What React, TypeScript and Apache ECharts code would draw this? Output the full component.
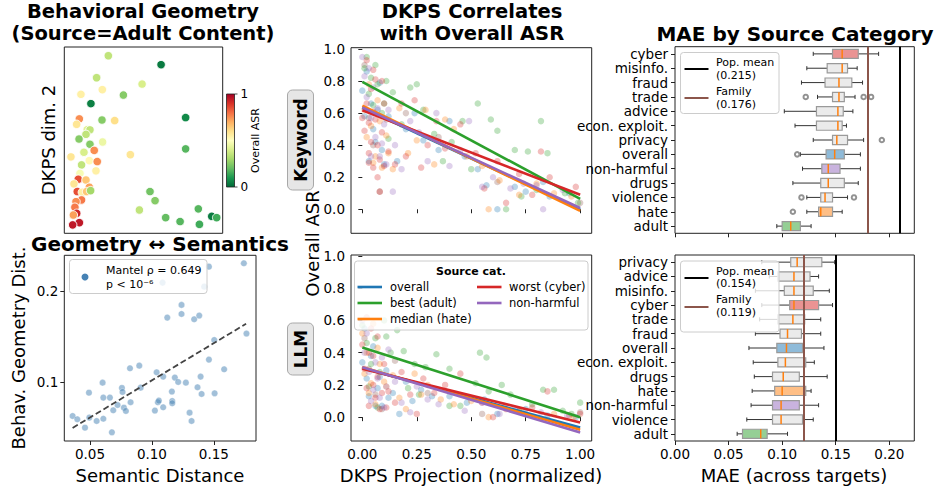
import React, { useEffect, useRef } from 'react';
import * as echarts from 'echarts';

const FONT = '"DejaVu Sans", "Liberation Sans", sans-serif';

// ---------- Panel A: behavioral geometry [dim1, dim2, overall ASR] ----------
const GEO_POINTS: number[][] = [
  [0.278, 0.953, 0.35], [0.611, 0.905, 0.04], [0.204, 0.835, 0.35], [0.491, 0.801, 0.40],
  [0.240, 0.771, 0.55], [0.105, 0.746, 0.55], [0.373, 0.742, 0.25], [0.168, 0.696, 0.05],
  [0.095, 0.614, 0.75], [0.766, 0.621, 0.07], [0.238, 0.608, 0.25], [0.318, 0.605, 0.60],
  [0.078, 0.585, 0.58], [0.145, 0.556, 0.42], [0.162, 0.555, 0.35], [0.137, 0.531, 0.35],
  [0.093, 0.506, 0.25], [0.162, 0.478, 0.25], [0.242, 0.490, 0.45], [0.189, 0.445, 0.75],
  [0.124, 0.435, 0.40], [0.766, 0.453, 0.18], [0.042, 0.410, 0.58], [0.417, 0.422, 0.58],
  [0.158, 0.390, 0.52], [0.208, 0.385, 0.75], [0.109, 0.367, 0.35], [0.099, 0.322, 0.48],
  [0.200, 0.335, 0.55], [0.088, 0.290, 0.85], [0.137, 0.286, 0.65], [0.061, 0.265, 0.58],
  [0.158, 0.247, 0.72], [0.082, 0.224, 0.85], [0.114, 0.220, 0.55], [0.141, 0.224, 0.65],
  [0.166, 0.229, 0.30], [0.541, 0.224, 0.22], [0.109, 0.179, 0.78], [0.573, 0.175, 0.25],
  [0.074, 0.170, 0.75], [0.067, 0.140, 0.78], [0.078, 0.107, 0.92], [0.474, 0.125, 0.35],
  [0.846, 0.131, 0.18], [0.057, 0.098, 0.72], [0.640, 0.084, 0.20], [0.731, 0.063, 0.18],
  [0.931, 0.091, 0.04], [0.962, 0.084, 0.15], [0.095, 0.057, 0.95], [0.853, 0.048, 0.15],
  [0.053, 0.045, 0.95],
];
const RDYLGN_R = ['#006837', '#1a9850', '#66bd63', '#a6d96a', '#d9ef8b', '#ffffbf', '#fee08b', '#fdae61', '#f46d43', '#d73027', '#a50026'];

// ---------- Panel B: geometry vs semantics [semantic dist, behav dist] ----------
const SEM_POINTS: number[][] = [
  [0.0360, 0.0631], [0.0398, 0.0595], [0.0460, 0.0503], [0.0495, 0.0613], [0.0554, 0.0576],
  [0.0608, 0.0601], [0.0677, 0.0452], [0.0492, 0.0886], [0.0608, 0.0832], [0.0661, 0.0832],
  [0.0602, 0.0996], [0.0688, 0.0693], [0.0723, 0.0751], [0.0758, 0.0938], [0.0763, 0.0894],
  [0.0774, 0.0722], [0.0790, 0.0686], [0.0823, 0.1153], [0.0828, 0.0781], [0.0898, 0.1182],
  [0.0909, 0.0941], [0.1024, 0.0690], [0.1038, 0.1109], [0.1048, 0.0781], [0.1056, 0.0799],
  [0.1091, 0.1062], [0.1091, 0.0726], [0.1086, 0.2091], [0.1124, 0.1708], [0.1164, 0.0795],
  [0.1164, 0.0770], [0.1161, 0.0898], [0.1185, 0.1051], [0.1212, 0.1003], [0.1239, 0.1847],
  [0.1239, 0.1748], [0.1274, 0.0996], [0.1304, 0.0667], [0.1320, 0.0576], [0.1341, 0.1690],
  [0.1368, 0.0945], [0.1382, 0.1730], [0.1393, 0.1062], [0.1401, 0.0872], [0.1422, 0.2047],
  [0.1460, 0.2266], [0.1460, 0.1248], [0.1503, 0.1463], [0.1506, 0.0879], [0.1583, 0.1142],
  [0.1742, 0.2303], [0.1763, 0.1533],
];
const SEM_FIT: number[][] = [[0.036, 0.050], [0.176, 0.164]];
const MANTEL_LINES = ['Mantel ρ = 0.649', 'p < 10⁻⁶'];

// ---------- Panel C: DKPS projection vs overall ASR ----------
const KW_OVERALL: number[][] = [
  [0.00, 0.74], [0.01, 0.58], [0.03, 0.30], [0.05, 0.50], [0.07, 0.62], [0.09, 0.37], [0.12, 0.58],
  [0.16, 0.30], [0.20, 0.50], [0.24, 0.60], [0.28, 0.43], [0.35, 0.37], [0.40, 0.55], [0.47, 0.33],
  [0.53, 0.25], [0.57, 0.15], [0.62, 0.00], [0.70, 0.14], [0.75, 0.11], [0.83, 0.17], [0.86, 0.08],
  [0.95, 0.10], [0.02, 0.86], [0.04, 0.66], [0.06, 0.42], [0.08, 0.79], [0.10, 0.28],
];
const KW_BEST: number[][] = [
  [0.01, 0.88], [0.03, 0.72], [0.05, 0.65], [0.07, 0.78], [0.09, 0.60], [0.11, 0.80], [0.14, 0.73],
  [0.18, 0.53], [0.22, 0.76], [0.25, 0.78], [0.28, 0.62], [0.33, 0.47], [0.37, 0.30], [0.41, 0.42],
  [0.46, 0.55], [0.50, 0.25], [0.53, 0.66], [0.59, 0.56], [0.62, 0.49], [0.66, 0.00], [0.70, 0.37],
  [0.73, 0.08], [0.76, 0.36], [0.80, 0.12], [0.82, 0.55], [0.85, 0.35], [0.93, 0.10], [0.99, 0.04],
  [0.02, 0.95], [0.04, 0.82], [0.06, 0.90], [0.10, 0.66], [0.12, 0.44],
];
const KW_MEDIAN: number[][] = [
  [0.01, 0.62], [0.02, 0.45], [0.04, 0.52], [0.06, 0.33], [0.08, 0.55], [0.11, 0.46], [0.14, 0.25],
  [0.17, 0.63], [0.21, 0.35], [0.25, 0.43], [0.29, 0.62], [0.33, 0.28], [0.38, 0.56], [0.42, 0.50],
  [0.48, 0.33], [0.55, 0.27], [0.58, 0.00], [0.63, 0.18], [0.72, 0.09], [0.80, 0.16], [0.88, 0.10],
  [0.96, 0.08], [0.03, 0.78], [0.05, 0.29], [0.07, 0.68], [0.09, 0.26], [0.12, 0.35],
];
const KW_WORST: number[][] = [
  [0.00, 0.57], [0.01, 0.49], [0.02, 0.66], [0.03, 0.35], [0.03, 0.29], [0.04, 0.42], [0.05, 0.87],
  [0.05, 0.26], [0.06, 0.56], [0.07, 0.40], [0.08, 0.31], [0.08, 0.11], [0.09, 0.80], [0.10, 0.27],
  [0.12, 0.36], [0.15, 0.28], [0.18, 0.66], [0.20, 0.33], [0.24, 0.68], [0.27, 0.26], [0.30, 0.40],
  [0.34, 0.55], [0.38, 0.38], [0.45, 0.53], [0.52, 0.35], [0.56, 0.13], [0.62, 0.30], [0.66, 0.04],
  [0.72, 0.22], [0.78, 0.09], [0.82, 0.36], [0.86, 0.20], [0.98, 0.14], [0.02, 0.93], [0.04, 0.75],
  [0.06, 0.81], [0.03, 0.54], [0.07, 0.20], [0.05, 0.61], [0.09, 0.48], [0.10, 0.66],
];
const KW_NONHARM: number[][] = [
  [0.00, 0.95], [0.01, 0.83], [0.02, 0.70], [0.04, 0.57], [0.06, 0.45], [0.08, 0.33], [0.10, 0.53],
  [0.14, 0.11], [0.15, 0.40], [0.18, 0.25], [0.22, 0.55], [0.26, 0.48], [0.30, 0.30], [0.34, 0.60],
  [0.40, 0.27], [0.45, 0.37], [0.49, 0.55], [0.55, 0.14], [0.60, 0.20], [0.68, 0.13], [0.74, 0.16],
  [0.80, 0.15], [0.83, 0.00], [0.92, 0.12], [0.03, 0.88], [0.05, 0.76], [0.07, 0.63], [0.09, 0.41],
  [0.11, 0.28], [0.04, 0.33], [0.12, 0.62],
];
const KW_OTHER: number[][] = [
  [0.01, 0.90], [0.03, 0.57], [0.05, 0.40], [0.08, 0.11], [0.11, 0.56], [0.20, 0.60], [0.35, 0.45],
  [0.62, 0.17], [1.00, 0.04],
];
const KW_FIT_OVERALL: number[][] = [[0, 0.633], [1, 0.0]];
const KW_FIT_BEST: number[][] = [[0, 0.795], [1, 0.065]];
const KW_FIT_MEDIAN: number[][] = [[0, 0.646], [1, -0.01]];
const KW_FIT_WORST: number[][] = [[0, 0.618], [1, 0.09]];
const KW_FIT_NONHARM: number[][] = [[0, 0.636], [1, 0.008]];

const LLM_OVERALL: number[][] = [
  [0.00, 0.34], [0.02, 0.24], [0.03, 0.13], [0.05, 0.44], [0.07, 0.18], [0.09, 0.07], [0.11, 0.29],
  [0.14, 0.15], [0.17, 0.02], [0.20, 0.22], [0.23, 0.10], [0.27, 0.17], [0.32, 0.13], [0.40, 0.13],
  [0.48, 0.09], [0.56, 0.11], [0.62, 0.02], [0.75, 0.05], [0.85, 0.01], [0.98, 0.00], [0.01, 0.55],
  [0.04, 0.38], [0.06, 0.07], [0.08, 0.25], [0.12, 0.12],
];
const LLM_BEST: number[][] = [
  [0.00, 0.57], [0.02, 0.46], [0.04, 0.33], [0.06, 0.49], [0.08, 0.28], [0.10, 0.60], [0.13, 0.40],
  [0.16, 0.54], [0.19, 0.41], [0.21, 0.18], [0.24, 0.33], [0.26, 0.14], [0.29, 0.31], [0.34, 0.39],
  [0.40, 0.30], [0.40, 0.07], [0.45, 0.07], [0.52, 0.21], [0.54, 0.40], [0.57, 0.37], [0.58, 0.16],
  [0.64, 0.20], [0.68, 0.14], [0.72, 0.04], [0.78, 0.08], [0.83, 0.17], [0.88, 0.17], [0.92, 0.04],
  [0.96, 0.02], [1.00, 0.09], [0.03, 0.19], [0.07, 0.06], [0.11, 0.50],
];
const LLM_MEDIAN: number[][] = [
  [0.00, 0.52], [0.02, 0.40], [0.04, 0.21], [0.06, 0.08], [0.08, 0.33], [0.11, 0.19], [0.14, 0.26],
  [0.17, 0.12], [0.20, 0.05], [0.24, 0.27], [0.27, 0.14], [0.30, 0.20], [0.36, 0.11], [0.42, 0.08],
  [0.50, 0.10], [0.58, 0.00], [0.65, 0.07], [0.72, 0.04], [0.88, 0.02], [0.97, 0.00], [0.01, 0.27],
  [0.03, 0.15], [0.05, 0.58], [0.07, 0.43], [0.10, 0.22],
];
const LLM_WORST: number[][] = [
  [0.00, 0.45], [0.01, 0.30], [0.02, 0.18], [0.03, 0.07], [0.04, 0.55], [0.05, 0.38], [0.06, 0.12],
  [0.07, 0.25], [0.08, 0.05], [0.10, 0.33], [0.12, 0.16], [0.15, 0.09], [0.18, 0.28], [0.22, 0.14],
  [0.25, 0.02], [0.28, 0.24], [0.33, 0.15], [0.38, 0.20], [0.45, 0.27], [0.55, 0.09], [0.60, 0.00],
  [0.66, 0.05], [0.78, 0.06], [0.85, 0.16], [0.95, 0.01], [1.00, 0.02], [0.02, 0.62], [0.03, 0.40],
  [0.05, 0.20], [0.07, 0.50], [0.09, 0.15], [0.11, 0.06],
];
const LLM_NONHARM: number[][] = [
  [0.00, 0.60], [0.01, 0.40], [0.03, 0.28], [0.05, 0.17], [0.06, 0.34], [0.08, 0.12], [0.10, 0.06],
  [0.12, 0.42], [0.15, 0.22], [0.18, 0.09], [0.22, 0.03], [0.25, 0.19], [0.30, 0.11], [0.35, 0.08],
  [0.47, 0.04], [0.55, 0.09], [0.63, 0.02], [0.70, 0.05], [0.82, 0.03], [0.94, 0.01], [0.02, 0.52],
  [0.04, 0.10], [0.07, 0.24], [0.09, 0.37], [0.11, 0.19],
];
const LLM_OTHER: number[][] = [
  [0.01, 0.49], [0.03, 0.30], [0.06, 0.14], [0.09, 0.05], [0.15, 0.35], [0.30, 0.15], [0.55, 0.02],
  [1.00, 0.03],
];
const LLM_FIT_OVERALL: number[][] = [[0, 0.305], [1, -0.065]];
const LLM_FIT_BEST: number[][] = [[0, 0.432], [1, 0.0]];
const LLM_FIT_MEDIAN: number[][] = [[0, 0.31], [1, -0.078]];
const LLM_FIT_WORST: number[][] = [[0, 0.30], [1, -0.033]];
const LLM_FIT_NONHARM: number[][] = [[0, 0.31], [1, -0.095]];

const ASR_TICKS = [0, 0.2, 0.4, 0.6, 0.8, 1.0];
const PROJ_TICKS = [0, 0.25, 0.5, 0.75, 1.0];

// ---------- Panel D: MAE by source category [min, q1, median, q3, max] ----------
const KW_CATS = ['cyber', 'misinfo.', 'fraud', 'trade', 'advice', 'econ. exploit.', 'privacy', 'overall', 'non-harmful', 'drugs', 'violence', 'hate', 'adult'];
const KW_BOX: number[][] = [
  [0.129, 0.147, 0.156, 0.171, 0.190],
  [0.123, 0.142, 0.156, 0.161, 0.170],
  [0.118, 0.140, 0.153, 0.165, 0.175],
  [0.133, 0.147, 0.153, 0.158, 0.168],
  [0.102, 0.132, 0.152, 0.157, 0.166],
  [0.112, 0.132, 0.152, 0.156, 0.160],
  [0.129, 0.147, 0.151, 0.161, 0.176],
  [0.117, 0.141, 0.149, 0.158, 0.173],
  [0.119, 0.137, 0.143, 0.154, 0.173],
  [0.110, 0.136, 0.143, 0.158, 0.171],
  [0.123, 0.136, 0.140, 0.147, 0.161],
  [0.123, 0.134, 0.136, 0.147, 0.156],
  [0.095, 0.100, 0.108, 0.117, 0.127],
];
const KW_OUTLIERS: (number | string)[][] = [
  [0.122, 'trade'], [0.176, 'trade'], [0.183, 'trade'], [0.193, 'privacy'], [0.114, 'overall'],
  [0.118, 'violence'], [0.167, 'violence'], [0.110, 'hate'],
];
const KW_POP_MEAN = 0.215;
const KW_FAMILY = 0.176;

const LLM_CATS = ['privacy', 'advice', 'misinfo.', 'cyber', 'trade', 'fraud', 'overall', 'econ. exploit.', 'drugs', 'hate', 'non-harmful', 'violence', 'adult'];
const LLM_BOX: number[][] = [
  [0.081, 0.108, 0.114, 0.137, 0.149],
  [0.088, 0.096, 0.111, 0.126, 0.134],
  [0.075, 0.102, 0.111, 0.129, 0.144],
  [0.081, 0.107, 0.111, 0.134, 0.147],
  [0.079, 0.096, 0.110, 0.121, 0.136],
  [0.075, 0.098, 0.105, 0.118, 0.136],
  [0.069, 0.095, 0.104, 0.119, 0.139],
  [0.073, 0.096, 0.103, 0.122, 0.130],
  [0.074, 0.091, 0.101, 0.116, 0.142],
  [0.072, 0.093, 0.100, 0.122, 0.127],
  [0.071, 0.091, 0.099, 0.116, 0.134],
  [0.067, 0.091, 0.099, 0.119, 0.129],
  [0.058, 0.063, 0.080, 0.086, 0.105],
];
const LLM_POP_MEAN = 0.154;
const LLM_FAMILY = 0.119;
const MAE_TICKS = [0, 0.05, 0.1, 0.15, 0.2];

// ---------- styling ----------
const C_BLUE = '#1f77b4';
const C_ORANGE = '#ff7f0e';
const C_GREEN = '#2ca02c';
const C_RED = '#d62728';
const C_PURPLE = '#9467bd';
const C_BROWN = '#8c564b';
const BOX_FILL: Record<string, string> = {
  cyber: '#ea9393',
  overall: '#8fbbd9',
  'non-harmful': '#c9b3de',
  hate: '#ffbf86',
  adult: '#95cf95',
};

function boxRenderer(cats: string[]) {
  return (params: any, api: any) => {
    const idx = api.value(0);
    const lo = api.coord([api.value(1), idx]);
    const q1 = api.coord([api.value(2), idx]);
    const md = api.coord([api.value(3), idx]);
    const q3 = api.coord([api.value(4), idx]);
    const hi = api.coord([api.value(5), idx]);
    const band = api.size([0, 1])[1];
    const h = band * 0.64;
    const cap = h * 0.45;
    const y = lo[1];
    const fill = BOX_FILL[cats[idx]] || '#ebebeb';
    const ws = { stroke: '#333', lineWidth: 1 };
    return {
      type: 'group',
      children: [
        { type: 'line', shape: { x1: lo[0], y1: y, x2: q1[0], y2: y }, style: ws },
        { type: 'line', shape: { x1: q3[0], y1: y, x2: hi[0], y2: y }, style: ws },
        { type: 'line', shape: { x1: lo[0], y1: y - cap / 2, x2: lo[0], y2: y + cap / 2 }, style: ws },
        { type: 'line', shape: { x1: hi[0], y1: y - cap / 2, x2: hi[0], y2: y + cap / 2 }, style: ws },
        { type: 'rect', shape: { x: q1[0], y: y - h / 2, width: q3[0] - q1[0], height: h }, style: { fill, stroke: '#9a9a9a', lineWidth: 1.2 } },
        { type: 'line', shape: { x1: md[0], y1: y - h / 2, x2: md[0], y2: y + h / 2 }, style: { stroke: C_ORANGE, lineWidth: 1.5 } },
      ],
    };
  };
}

const TICK_FONT = 13.5;
const tickStyle = { show: true, length: 4, lineStyle: { color: '#222', width: 1 } };
const noSplit = { show: false };

function valueAxis(gridIndex: number, min: number, max: number, ticks: number[] | null, digits: number, showLabels: boolean) {
  return {
    type: 'value',
    gridIndex,
    min,
    max,
    axisLine: { show: false },
    splitLine: noSplit,
    axisTick: ticks ? { ...tickStyle, customValues: ticks } : { show: false },
    axisLabel: ticks && showLabels
      ? { show: true, customValues: ticks, fontSize: TICK_FONT, color: '#000', fontFamily: FONT, margin: 6, formatter: (v: number) => v.toFixed(digits) }
      : { show: false },
  };
}

function catAxis(gridIndex: number, cats: string[]) {
  return {
    type: 'category',
    gridIndex,
    data: cats,
    inverse: true,
    axisLine: { show: false },
    splitLine: noSplit,
    axisTick: { ...tickStyle, alignWithLabel: true, interval: 0 },
    axisLabel: { show: true, interval: 0, fontSize: TICK_FONT, color: '#000', fontFamily: FONT, margin: 7 },
  };
}

function scat(xi: number, data: number[][], color: string) {
  return {
    type: 'scatter', xAxisIndex: xi, yAxisIndex: xi, data, symbolSize: 6.5,
    itemStyle: { color, opacity: 0.3 }, silent: true,
  };
}
function fit(xi: number, data: number[][], color: string) {
  return {
    type: 'line', xAxisIndex: xi, yAxisIndex: xi, data, symbol: 'none', silent: true, z: 5,
    lineStyle: { color, width: 2.6 },
  };
}

const txt = (text: string, x: number, y: number, size: number, o: any = {}) => ({
  type: 'text', x, y, rotation: o.rot || 0, z: 100, silent: true,
  style: {
    text, fill: o.fill || '#000',
    font: `${o.bold ? 'bold ' : ''}${size}px ${FONT}`,
    textAlign: o.align || 'center', textVerticalAlign: 'middle',
  },
});
const gline = (x1: number, y1: number, x2: number, y2: number, stroke: string, lw: number) => ({
  type: 'line', z: 101, silent: true, shape: { x1, y1, x2, y2 }, style: { stroke, lineWidth: lw },
});
const legendBox = (x: number, y: number, w: number, h: number) => ({
  type: 'rect', z: 99, silent: true, shape: { x, y, width: w, height: h, r: 3 },
  style: { fill: 'rgba(255,255,255,0.8)', stroke: '#cccccc', lineWidth: 1 },
});

export default function App() {
  const ref = useRef<HTMLDivElement>(null);
  useEffect(() => {
    if (!ref.current) return;
    const chart = echarts.init(ref.current, undefined, { renderer: 'svg' });
    const GRID = { show: true, borderColor: '#222', borderWidth: 1, backgroundColor: 'transparent', containLabel: false, outerBoundsMode: 'none' };

    const gradStops = RDYLGN_R.slice().reverse().map((c, i) => ({ offset: i / 10, color: c }));

    const option: any = {
      animation: false,
      backgroundColor: '#ffffff',
      textStyle: { fontFamily: FONT },
      grid: [
        { ...GRID, left: 64.3, top: 47, width: 158.4, height: 186.3 },
        { ...GRID, left: 64.3, top: 255.3, width: 191.7, height: 185.7 },
        { ...GRID, left: 351, top: 47.7, width: 240.7, height: 185.6 },
        { ...GRID, left: 351, top: 255, width: 240.7, height: 186 },
        { ...GRID, left: 675, top: 46.7, width: 239.3, height: 186.6 },
        { ...GRID, left: 675, top: 255, width: 239.3, height: 186 },
      ],
      xAxis: [
        { type: 'value', gridIndex: 0, min: 0, max: 1, show: false },
        valueAxis(1, 0.0293, 0.184, [0.05, 0.1, 0.15], 2, true),
        valueAxis(2, -0.052, 1.053, PROJ_TICKS, 2, false),
        valueAxis(3, -0.052, 1.053, PROJ_TICKS, 2, true),
        valueAxis(4, 0, 0.2233, MAE_TICKS, 2, false),
        valueAxis(5, 0, 0.2233, MAE_TICKS, 2, true),
      ],
      yAxis: [
        { type: 'value', gridIndex: 0, min: 0, max: 1, show: false },
        valueAxis(1, 0.0357, 0.239, [0.1, 0.2], 1, true),
        valueAxis(2, -0.15, 1.008, ASR_TICKS, 1, true),
        valueAxis(3, -0.148, 1.006, ASR_TICKS, 1, true),
        catAxis(4, KW_CATS),
        catAxis(5, LLM_CATS),
      ],
      visualMap: [{
        type: 'continuous', show: false, seriesIndex: 0, dimension: 2, min: 0, max: 1,
        inRange: { color: RDYLGN_R },
      }],
      series: [
        {
          type: 'scatter', xAxisIndex: 0, yAxisIndex: 0, data: GEO_POINTS, symbolSize: 8.5, silent: true,
          itemStyle: { borderColor: '#ffffff', borderWidth: 0.9, opacity: 1 },
        },
        {
          type: 'scatter', xAxisIndex: 1, yAxisIndex: 1, data: SEM_POINTS, symbolSize: 6.5, silent: true,
          itemStyle: { color: '#4682b4', opacity: 0.5, borderColor: '#ffffff', borderWidth: 0.6 },
        },
        {
          type: 'line', xAxisIndex: 1, yAxisIndex: 1, data: SEM_FIT, symbol: 'none', silent: true,
          lineStyle: { color: '#444444', width: 1.8, type: [6, 3] },
        },
        scat(2, KW_OTHER, C_BROWN),
        scat(2, KW_OVERALL, C_BLUE),
        scat(2, KW_BEST, C_GREEN),
        scat(2, KW_MEDIAN, C_ORANGE),
        scat(2, KW_WORST, C_RED),
        scat(2, KW_NONHARM, C_PURPLE),
        fit(2, KW_FIT_OVERALL, C_BLUE),
        fit(2, KW_FIT_BEST, C_GREEN),
        fit(2, KW_FIT_MEDIAN, C_ORANGE),
        fit(2, KW_FIT_WORST, C_RED),
        fit(2, KW_FIT_NONHARM, C_PURPLE),
        scat(3, LLM_OTHER, C_BROWN),
        scat(3, LLM_OVERALL, C_BLUE),
        scat(3, LLM_BEST, C_GREEN),
        scat(3, LLM_MEDIAN, C_ORANGE),
        scat(3, LLM_WORST, C_RED),
        scat(3, LLM_NONHARM, C_PURPLE),
        fit(3, LLM_FIT_OVERALL, C_BLUE),
        fit(3, LLM_FIT_BEST, C_GREEN),
        fit(3, LLM_FIT_MEDIAN, C_ORANGE),
        fit(3, LLM_FIT_WORST, C_RED),
        fit(3, LLM_FIT_NONHARM, C_PURPLE),
        {
          type: 'custom', xAxisIndex: 4, yAxisIndex: 4, silent: true,
          data: KW_BOX.map((b, i) => [i, ...b]),
          encode: { x: [1, 2, 3, 4, 5], y: 0 },
          renderItem: boxRenderer(KW_CATS),
        },
        {
          type: 'scatter', xAxisIndex: 4, yAxisIndex: 4, data: KW_OUTLIERS, symbol: 'emptyCircle', symbolSize: 4.5, silent: true,
          itemStyle: { color: '#777777', borderWidth: 0.8 },
          markLine: {
            silent: true, symbol: ['none', 'none'], label: { show: false }, animation: false,
            data: [
              { xAxis: KW_POP_MEAN, lineStyle: { color: '#000000', width: 2, type: 'solid' } },
              { xAxis: KW_FAMILY, lineStyle: { color: C_BROWN, width: 2, type: 'solid' } },
            ],
          },
        },
        {
          type: 'custom', xAxisIndex: 5, yAxisIndex: 5, silent: true,
          data: LLM_BOX.map((b, i) => [i, ...b]),
          encode: { x: [1, 2, 3, 4, 5], y: 0 },
          renderItem: boxRenderer(LLM_CATS),
          markLine: {
            silent: true, symbol: ['none', 'none'], label: { show: false }, animation: false,
            data: [
              { xAxis: LLM_POP_MEAN, lineStyle: { color: '#000000', width: 2, type: 'solid' } },
              { xAxis: LLM_FAMILY, lineStyle: { color: C_BROWN, width: 2, type: 'solid' } },
            ],
          },
        },
      ],
      graphic: [
        // titles
        txt('Behavioral Geometry', 143, 11, 19.5, { bold: true }),
        txt('(Source=Adult Content)', 143, 33.5, 19.5, { bold: true }),
        txt('Geometry ↔ Semantics', 160, 243.5, 20, { bold: true }),
        txt('DKPS Correlates', 472, 11, 19.5, { bold: true }),
        txt('with Overall ASR', 472, 33.5, 19.5, { bold: true }),
        txt('MAE by Source Category', 795, 34, 20, { bold: true }),
        // axis names
        txt('DKPS dim. 2', 48, 140, 18, { rot: Math.PI / 2 }),
        txt('Behav. Geometry Dist.', 18, 348, 18, { rot: Math.PI / 2 }),
        txt('Semantic Distance', 160, 475, 18),
        txt('Overall ASR', 312, 243.5, 18, { rot: Math.PI / 2 }),
        txt('DKPS Projection (normalized)', 471, 475, 18),
        txt('MAE (across targets)', 794, 475, 18),
        // colorbar
        {
          type: 'rect', z: 100, silent: true, shape: { x: 226.5, y: 94, width: 8, height: 93 },
          style: { fill: new echarts.graphic.LinearGradient(0, 0, 0, 1, gradStops), stroke: '#222', lineWidth: 0.8 },
        },
        gline(234.5, 94, 237.5, 94, '#222', 0.8),
        gline(234.5, 187, 237.5, 187, '#222', 0.8),
        txt('1', 240.5, 94, 12, { align: 'left' }),
        txt('0', 240.5, 187, 12, { align: 'left' }),
        txt('Overall ASR', 255.5, 140.5, 11, { rot: Math.PI / 2 }),
        // row labels
        {
          type: 'rect', z: 100, silent: true, shape: { x: 287.5, y: 90, width: 26, height: 100, r: 5 },
          style: { fill: '#e6e6e6', stroke: '#a8a8a8', lineWidth: 1 },
        },
        txt('Keyword', 300.5, 140, 17, { bold: true, rot: Math.PI / 2 }),
        {
          type: 'rect', z: 100, silent: true, shape: { x: 287.5, y: 323, width: 26, height: 52, r: 5 },
          style: { fill: '#e6e6e6', stroke: '#a8a8a8', lineWidth: 1 },
        },
        txt('LLM', 300.5, 349, 17, { bold: true, rot: Math.PI / 2 }),
        // Mantel legend
        legendBox(69.5, 259.5, 137.5, 34),
        { type: 'circle', z: 101, silent: true, shape: { cx: 85, cy: 277, r: 3.5 }, style: { fill: '#4682b4' } },
        txt(MANTEL_LINES[0], 106, 270, 11, { align: 'left' }),
        txt(MANTEL_LINES[1], 106, 284, 11, { align: 'left' }),
        // source category legend
        legendBox(354.5, 261, 233.5, 69),
        txt('Source cat.', 471, 271, 11, { bold: true }),
        gline(357.5, 287, 382, 287, C_BLUE, 2.6),
        txt('overall', 390, 287, 11.5, { align: 'left' }),
        gline(357.5, 303, 382, 303, C_GREEN, 2.6),
        txt('best (adult)', 390, 303, 11.5, { align: 'left' }),
        gline(357.5, 319, 382, 319, C_ORANGE, 2.6),
        txt('median (hate)', 390, 319, 11.5, { align: 'left' }),
        gline(477, 287, 501.5, 287, C_RED, 2.6),
        txt('worst (cyber)', 509, 287, 11.5, { align: 'left' }),
        gline(477, 303, 501.5, 303, C_PURPLE, 2.6),
        txt('non-harmful', 509, 303, 11.5, { align: 'left' }),
        // MAE legends
        legendBox(680.5, 52.5, 98.5, 61),
        gline(684.5, 69, 708.5, 69, '#000', 2),
        txt('Pop. mean', 716, 62, 11, { align: 'left' }),
        txt(`(${KW_POP_MEAN.toFixed(3)})`, 716, 75, 11, { align: 'left' }),
        gline(684.5, 98, 708.5, 98, C_BROWN, 2),
        txt('Family', 716, 91, 11, { align: 'left' }),
        txt(`(${KW_FAMILY.toFixed(3)})`, 716, 104, 11, { align: 'left' }),
        legendBox(680.5, 261, 98.5, 71),
        gline(684.5, 278, 708.5, 278, '#000', 2),
        txt('Pop. mean', 716, 271, 11, { align: 'left' }),
        txt(`(${LLM_POP_MEAN.toFixed(3)})`, 716, 283.5, 11, { align: 'left' }),
        gline(684.5, 307, 708.5, 307, C_BROWN, 2),
        txt('Family', 716, 299.5, 11, { align: 'left' }),
        txt(`(${LLM_FAMILY.toFixed(3)})`, 716, 312, 11, { align: 'left' }),
      ],
    };
    chart.setOption(option);
    return () => chart.dispose();
  }, []);
  return <div ref={ref} style={{ position: 'fixed', left: 0, top: 0, width: 938, height: 488, background: '#fff' }} />;
}
